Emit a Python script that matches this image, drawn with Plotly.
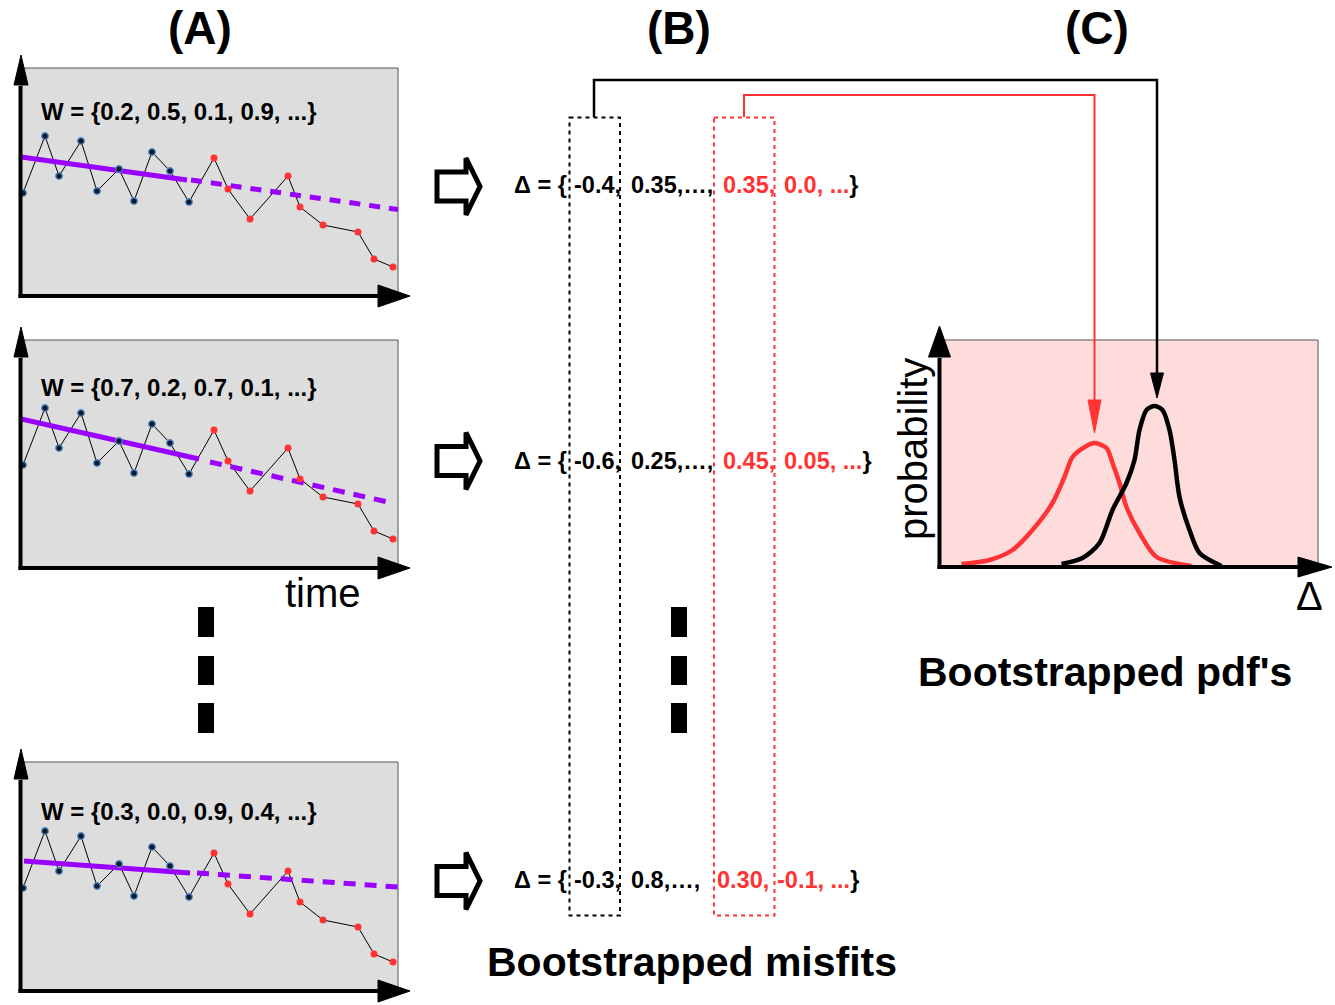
import plotly.graph_objects as go

W, H = 1335, 1005

# ---------------- data ----------------
# observed series (shared by all resampled panels)
time = [2, 24, 38, 60, 76, 98, 113, 131, 149, 168, 193, 207, 229, 267, 279, 302, 337, 353, 372]
obs = [1.03, 1.60, 1.20, 1.55, 1.05, 1.27, 0.95, 1.44, 1.25, 0.94,
       1.38, 1.07, 0.77, 1.20, 0.89, 0.71, 0.64, 0.37, 0.29]
n_calib = 10  # first points are calibration (blue), rest validation (red)

weight_labels = ["W = {0.2, 0.5, 0.1, 0.9, ...}",
                 "W = {0.7, 0.2, 0.7, 0.1, ...}",
                 "W = {0.3, 0.0, 0.9, 0.4, ...}"]

# weighted fits: solid (calibration) and dashed (extrapolation)
fit_solid_t = [[0, 166], [0, 178], [3, 169]]
fit_solid_y = [[1.39, 1.16], [1.49, 1.09], [1.30, 1.18]]
fit_dash_t = [[170, 377], [189, 367], [176, 377]]
fit_dash_y = [[1.16, 0.865], [1.06, 0.66], [1.18, 1.04]]

# bootstrapped misfits
delta_black = [["-0.4", "0.35"], ["-0.6", "0.25"], ["-0.3", "0.8"]]
delta_red = [["0.35", "0.0"], ["0.45", "0.05"], ["0.30", "-0.1"]]

# bootstrapped pdfs
pdf_red_x = [0.22, 0.50, 0.73, 0.93, 1.13, 1.25, 1.33, 1.47, 1.55, 1.67, 1.73, 1.80, 1.87, 2.00, 2.17, 2.52]
pdf_red_y = [0.03, 0.07, 0.17, 0.37, 0.64, 0.90, 1.10, 1.21, 1.24, 1.19, 1.04, 0.84, 0.60, 0.34, 0.10, 0.01]
pdf_blk_x = [1.22, 1.43, 1.60, 1.73, 1.87, 1.95, 2.00, 2.07, 2.15, 2.23, 2.30, 2.35, 2.40, 2.50, 2.60, 2.82]
pdf_blk_y = [0.03, 0.09, 0.24, 0.57, 0.84, 1.07, 1.37, 1.57, 1.61, 1.57, 1.37, 1.07, 0.70, 0.37, 0.14, 0.01]

# ---------------- styling / layout ----------------
FONT = "Liberation Sans"
PURPLE = "#9900ff"
RED = "#ff3333"
GRAY_BG = "#dddddd"
PINK_BG = "#ffdcdc"

panels = [(68, 296), (340, 568), (762, 991)]   # top, bottom (px)
dash_styles = ["11px,9px", "12px,9px", "12px,9px"]
A_LEFT, A_RIGHT = 21, 398
C_BOX = (939.5, 1318, 340, 567)


def fy(p):
    return 1 - p / H


fig = go.Figure()
layout_axes = {}
shapes = []
annotations = []

for i, (top, bot) in enumerate(panels):
    k = i + 1
    xa = "x" if k == 1 else f"x{k}"
    ya = "y" if k == 1 else f"y{k}"
    layout_axes["xaxis" if k == 1 else f"xaxis{k}"] = dict(
        domain=[A_LEFT / W, A_RIGHT / W], range=[0, A_RIGHT - A_LEFT],
        visible=False, anchor=ya, fixedrange=True)
    layout_axes["yaxis" if k == 1 else f"yaxis{k}"] = dict(
        domain=[fy(bot), fy(top)], range=[0, (bot - top) / 100],
        visible=False, anchor=xa, fixedrange=True)
    # background box
    shapes.append(dict(type="rect", xref=f"{xa} domain", yref=f"{ya} domain",
                       x0=0, x1=1, y0=0, y1=1, fillcolor=GRAY_BG,
                       line=dict(color="#555555", width=1), layer="below"))
    # connecting line
    fig.add_trace(go.Scatter(x=time, y=obs, mode="lines", xaxis=xa, yaxis=ya,
                             line=dict(color="black", width=1), hoverinfo="skip"))
    # fit lines
    fig.add_trace(go.Scatter(x=fit_solid_t[i], y=fit_solid_y[i], mode="lines",
                             xaxis=xa, yaxis=ya, line=dict(color=PURPLE, width=5),
                             hoverinfo="skip"))
    fig.add_trace(go.Scatter(x=fit_dash_t[i], y=fit_dash_y[i], mode="lines",
                             xaxis=xa, yaxis=ya,
                             line=dict(color=PURPLE, width=5, dash=dash_styles[i]),
                             hoverinfo="skip"))
    # points
    fig.add_trace(go.Scatter(x=time[:n_calib], y=obs[:n_calib], mode="markers",
                             xaxis=xa, yaxis=ya,
                             marker=dict(size=6.5, color="#0a1a30",
                                         line=dict(color="#4f86c0", width=1.3)),
                             hoverinfo="skip"))
    fig.add_trace(go.Scatter(x=time[n_calib:], y=obs[n_calib:], mode="markers",
                             xaxis=xa, yaxis=ya,
                             marker=dict(size=7, color=RED, line=dict(width=0)),
                             hoverinfo="skip"))

# panel C axes
layout_axes["xaxis4"] = dict(domain=[C_BOX[0] / W, C_BOX[1] / W],
                             range=[0, (C_BOX[1] - C_BOX[0]) / 100],
                             visible=False, anchor="y4", fixedrange=True)
layout_axes["yaxis4"] = dict(domain=[fy(C_BOX[3]), fy(C_BOX[2])],
                             range=[0, (C_BOX[3] - C_BOX[2]) / 100],
                             visible=False, anchor="x4", fixedrange=True)
shapes.append(dict(type="rect", xref="x4 domain", yref="y4 domain",
                   x0=0, x1=1, y0=0, y1=1, fillcolor=PINK_BG,
                   line=dict(color="#555555", width=1), layer="below"))
fig.add_trace(go.Scatter(x=pdf_red_x, y=pdf_red_y, mode="lines", xaxis="x4", yaxis="y4",
                         line=dict(color=RED, width=4.5, shape="spline", smoothing=0.8),
                         hoverinfo="skip"))
fig.add_trace(go.Scatter(x=pdf_blk_x, y=pdf_blk_y, mode="lines", xaxis="x4", yaxis="y4",
                         line=dict(color="black", width=4.5, shape="spline", smoothing=0.8),
                         hoverinfo="skip"))

# overlay pixel-space axes for decorations
layout_axes["xaxis5"] = dict(domain=[0, 1], range=[0, W], visible=False,
                             anchor="y5", fixedrange=True)
layout_axes["yaxis5"] = dict(domain=[0, 1], range=[H, 0], visible=False,
                             anchor="x5", fixedrange=True)
fig.add_trace(go.Scatter(x=[], y=[], xaxis="x5", yaxis="y5", showlegend=False,
                         hoverinfo="skip"))


def P(**kw):
    d = dict(xref="x5", yref="y5", layer="above")
    d.update(kw)
    return d


def tri(pts):
    return "M " + " L ".join(f"{x},{y}" for x, y in pts) + " Z"


# axes arrows for A panels
for top, bot in panels:
    shapes.append(P(type="line", x0=20.5, x1=20.5, y0=bot + 2, y1=top + 18,
                    line=dict(color="black", width=4)))
    shapes.append(P(type="path", path=tri([(14, top + 17), (28, top + 17), (21, top - 13)]),
                    fillcolor="black", line=dict(color="black", width=1)))
    shapes.append(P(type="line", x0=18.5, x1=380, y0=bot, y1=bot,
                    line=dict(color="black", width=4)))
    shapes.append(P(type="path", path=tri([(378, bot - 11), (378, bot + 11), (410, bot)]),
                    fillcolor="black", line=dict(color="black", width=1)))

# axes arrows for C
cx0, cx1, ct, cb = C_BOX
shapes.append(P(type="line", x0=cx0, x1=cx0, y0=cb + 2, y1=ct + 18,
                line=dict(color="black", width=4)))
shapes.append(P(type="path", path=tri([(928.5, 357), (950.5, 357), (939.5, 326)]),
                fillcolor="black", line=dict(color="black", width=1)))
shapes.append(P(type="line", x0=cx0 - 2, x1=1300, y0=cb, y1=cb,
                line=dict(color="black", width=4)))
shapes.append(P(type="path", path=tri([(1298, cb - 10), (1298, cb + 10), (1332, cb)]),
                fillcolor="black", line=dict(color="black", width=1)))

# vertical ellipsis bars
for bx in (206, 679):
    for y0, y1 in ((607, 637), (656, 685), (703, 733)):
        shapes.append(P(type="rect", x0=bx - 8, x1=bx + 8, y0=y0, y1=y1,
                        fillcolor="black", line=dict(width=0)))

# hollow arrows
for cy in (186.5, 461, 881):
    pts = [(437, cy - 14.5), (466, cy - 14.5), (466, cy - 28.5), (480, cy),
           (466, cy + 28.5), (466, cy + 14.5), (437, cy + 14.5)]
    shapes.append(P(type="path", path=tri(pts), fillcolor="white",
                    line=dict(color="black", width=5)))

# dashed selection boxes
shapes.append(P(type="rect", x0=569.5, x1=620, y0=117.5, y1=915.5,
                line=dict(color="black", width=2, dash="4px,4px")))
shapes.append(P(type="rect", x0=714, x1=774.5, y0=117.5, y1=915.5,
                line=dict(color=RED, width=2, dash="4px,4px")))

# connectors to pdf panel
shapes.append(P(type="path", path="M 594,117 L 594,80 L 1157,80 L 1157,375",
                line=dict(color="black", width=2.5)))
shapes.append(P(type="path", path=tri([(1150.5, 373), (1163.5, 373), (1157, 398)]),
                fillcolor="black", line=dict(color="black", width=1)))
shapes.append(P(type="path", path="M 744,117 L 744,95 L 1094.5,95 L 1094.5,402",
                line=dict(color=RED, width=2)))
shapes.append(P(type="path", path=tri([(1088, 400), (1101, 400), (1094.5, 433)]),
                fillcolor=RED, line=dict(color=RED, width=1)))


def A(text, x, y, size, weight="bold", color="black", xanchor="center", angle=0):
    return dict(xref="x5", yref="y5", x=x, y=y, text=text, showarrow=False,
                xanchor=xanchor, yanchor="middle", textangle=angle,
                font=dict(family=FONT, size=size, color=color, weight=weight))


annotations.append(A("(A)", 200, 28, 46))
annotations.append(A("(B)", 679, 28, 46))
annotations.append(A("(C)", 1097, 28, 46))
for (top, bot), wl, wy in zip(panels, weight_labels, (111.5, 387.5, 811)):
    annotations.append(A(wl, 39, wy, 24, xanchor="left"))
annotations.append(A("time", 323, 593, 40, weight="normal"))
annotations.append(A("probability", 913, 449, 40, weight="normal", angle=-90))
annotations.append(A("Δ", 1309, 596, 40, weight="normal"))
annotations.append(A("Bootstrapped misfits", 692, 962, 41))
annotations.append(A("Bootstrapped pdf's", 1105, 672, 41))

# misfit rows, laid out piecewise so the dashed boxes cut through them
DS = 23.5
red_x = [(721, 782), (721, 782), (715, 775)]
for (b0, b1), (r0, r1), dy, (rx0, rx1) in zip(delta_black, delta_red, (185, 461, 880), red_x):
    annotations.append(A("Δ = {", 511.5, dy, DS, xanchor="left"))
    annotations.append(A(f"{b0},", 571.5, dy, DS, xanchor="left"))
    annotations.append(A(f"{b1},…,", 629, dy, DS, xanchor="left"))
    annotations.append(A(f"{r0},", rx0, dy, DS, xanchor="left", color=RED))
    annotations.append(A(f"<span style='color:{RED}'>{r1}, ...</span>}}", rx1, dy, DS,
                         xanchor="left"))

fig.update_layout(
    width=W, height=H, margin=dict(l=0, r=0, t=0, b=0),
    paper_bgcolor="white", plot_bgcolor="rgba(0,0,0,0)",
    showlegend=False, shapes=shapes, annotations=annotations,
    font=dict(family=FONT), **layout_axes)

fig.write_html("out.html", config={"displayModeBar": False})
